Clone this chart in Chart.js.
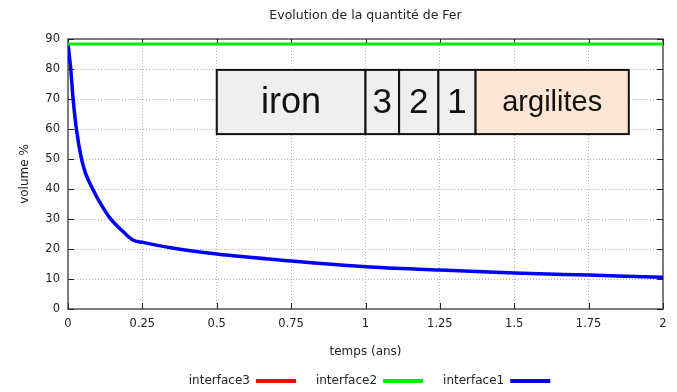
<!DOCTYPE html>
<html>
<head>
<meta charset="utf-8">
<title>Evolution de la quantité de Fer</title>
<script src="https://cdn.jsdelivr.net/npm/chart.js@4"></script>
<style>
    html, body { margin: 0; padding: 0; background: #fff; }
    #wrap { width: 677px; height: 392px; }
</style>
</head>
<body>
<div id="wrap"><canvas id="ferChart" width="677" height="392"></canvas></div>
<script>
// Temps (ans) et volume % pour chaque interface
var temps = [0, 0.009, 0.017, 0.028, 0.045, 0.059, 0.082, 0.109, 0.142, 0.185, 0.218, 0.252, 0.35, 0.5, 0.75, 1.0, 1.25, 1.5, 1.75, 2.0];
var interface1 = [88.3, 80.2, 70.2, 60.2, 50.2, 45.2, 40.2, 35.2, 30.2, 25.8, 23, 22.2, 20.3, 18.3, 16, 14.1, 13, 12, 11.3, 10.6];
var tempsInterface2 = [0, 2];
var interface2 = [88.3, 88.3];
var interface3 = [];

var xTickValues = [0, 0.25, 0.5, 0.75, 1, 1.25, 1.5, 1.75, 2];
var xTickLabels = ['0', '0.25', '0.5', '0.75', '1', '1.25', '1.5', '1.75', '2'];

// Couches du schéma (limites en années, hauteur en volume %)
var zoneLimites = [0.5, 1.0, 1.113, 1.245, 1.37, 1.885];
var zoneNoms = ['iron', '3', '2', '1', 'argilites'];
var zoneHaut = 79.7;
var zoneBas = 58.3;

var FONT = "'DejaVu Sans', sans-serif";

function toPoints(xs, ys)
{
    var pts = [];
    for (var i = 0; i < ys.length; i++) {
        pts.push({x: xs[i], y: ys[i]});
    }
    return pts;
}

// cadre + petites graduations vers l'intérieur
var cadrePlugin = {
    id: 'cadre',
    beforeDatasetsDraw: function(chart) {
        var ctx = chart.ctx;
        var a = chart.chartArea;
        var xs = chart.scales.x;
        var ys = chart.scales.y;
        ctx.save();
        ctx.strokeStyle = '#555';
        ctx.lineWidth = 1.5;
        ctx.strokeRect(a.left, a.top, a.right - a.left, a.bottom - a.top);
        ctx.lineWidth = 1;
        ctx.strokeStyle = '#222';
        ctx.beginPath();
        xs.ticks.forEach(function(t) {
            var px = Math.round(xs.getPixelForValue(t.value)) + 0.5;
            ctx.moveTo(px, a.bottom); ctx.lineTo(px, a.bottom - 6);
            ctx.moveTo(px, a.top); ctx.lineTo(px, a.top + 6);
        });
        ys.ticks.forEach(function(t) {
            var py = Math.round(ys.getPixelForValue(t.value)) + 0.5;
            ctx.moveTo(a.left, py); ctx.lineTo(a.left + 6, py);
            ctx.moveTo(a.right, py); ctx.lineTo(a.right - 6, py);
        });
        ctx.stroke();
        ctx.restore();
    },
    afterDatasetsDraw: function(chart) {
        var ctx = chart.ctx;
        var xs = chart.scales.x;
        var ys = chart.scales.y;
        var top = ys.getPixelForValue(zoneHaut);
        var bottom = ys.getPixelForValue(zoneBas);
        ctx.save();
        for (var i = 0; i < zoneNoms.length; i++) {
            var x0 = xs.getPixelForValue(zoneLimites[i]);
            var x1 = xs.getPixelForValue(zoneLimites[i + 1]);
            var last = i == zoneNoms.length - 1;
            ctx.fillStyle = last ? '#fce5d5' : '#efefef';
            ctx.fillRect(x0, top, x1 - x0, bottom - top);
            ctx.strokeStyle = '#111';
            ctx.lineWidth = 2;
            ctx.strokeRect(x0, top, x1 - x0, bottom - top);
            ctx.fillStyle = '#111';
            ctx.textAlign = 'center';
            ctx.textBaseline = 'middle';
            var size = last ? 29 : (i == 0 ? 36 : 35);
            ctx.font = size + "px 'Liberation Sans', Arial, sans-serif";
            ctx.fillText(zoneNoms[i], (x0 + x1) / 2, (top + bottom) / 2 + 1);
        }
        ctx.restore();
    },
    afterDraw: function(chart) {
        var ctx = chart.ctx;
        var a = chart.chartArea;
        var mid = (a.left + a.right) / 2;
        ctx.save();
        // titre
        ctx.font = '12.5px ' + FONT;
        ctx.fillStyle = '#222';
        ctx.textAlign = 'center';
        ctx.textBaseline = 'middle';
        ctx.fillText('Evolution de la quantité de Fer', mid, 16);

        // légende : texte puis trait
        ctx.font = '12px ' + FONT;
        var items = chart.data.datasets;
        var lineLen = 40, gap = 6, sep = 20;
        var total = 0;
        items.forEach(function(d, i) {
            total += ctx.measureText(d.label).width + gap + lineLen;
            if (i < items.length - 1) total += sep;
        });
        var x = mid + 4 - total / 2;
        var y = 381;
        ctx.textAlign = 'left';
        items.forEach(function(d) {
            var w = ctx.measureText(d.label).width;
            ctx.fillStyle = '#222';
            ctx.fillText(d.label, x, y);
            x += w + gap;
            ctx.strokeStyle = d.borderColor;
            ctx.lineWidth = 4;
            ctx.beginPath();
            ctx.moveTo(x, y);
            ctx.lineTo(x + lineLen, y);
            ctx.stroke();
            x += lineLen + sep;
        });
        ctx.restore();
    }
};

var ctx = document.getElementById('ferChart').getContext('2d');

var config = {
    type: 'line',
    data: {
        datasets: [{
            label: 'interface3',
            data: toPoints(temps, interface3),
            borderColor: '#ff0000',
            borderWidth: 3,
            pointRadius: 0
        }, {
            label: 'interface2',
            data: toPoints(tempsInterface2, interface2),
            borderColor: '#00ee00',
            borderWidth: 3,
            pointRadius: 0
        }, {
            label: 'interface1',
            data: toPoints(temps, interface1),
            borderColor: '#0000ff',
            borderWidth: 3.5,
            pointRadius: 0,
            cubicInterpolationMode: 'monotone'
        }]
    },
    options: {
        responsive: false,
        animation: false,
        devicePixelRatio: 1,
        layout: {
            padding: {left: 0, right: 14, top: 39, bottom: 33}
        },
        plugins: {
            legend: {display: false},
            title: {display: false},
            tooltip: {enabled: false}
        },
        scales: {
            x: {
                type: 'linear',
                min: 0,
                max: 2,
                afterFit: function(scale) { scale.height = 50; },
                afterBuildTicks: function(scale) {
                    scale.ticks = xTickValues.map(function(v) { return {value: v}; });
                },
                ticks: {
                    padding: 8,
                    color: '#222',
                    font: {family: FONT, size: 11.5},
                    maxRotation: 0,
                    callback: function(value) {
                        var i = xTickValues.indexOf(value);
                        return i >= 0 ? xTickLabels[i] : '';
                    }
                },
                grid: {color: '#b4b4b4', lineWidth: 1, drawTicks: false},
                border: {display: false, dash: [1, 2]},
                title: {
                    display: true,
                    text: 'temps (ans)',
                    color: '#222',
                    font: {family: FONT, size: 12},
                    padding: {top: 0, bottom: 0}
                }
            },
            y: {
                min: 0,
                max: 90,
                afterFit: function(scale) { scale.width = 68; },
                ticks: {
                    stepSize: 10,
                    padding: 8,
                    color: '#222',
                    font: {family: FONT, size: 11.5}
                },
                grid: {color: '#b4b4b4', lineWidth: 1, drawTicks: false},
                border: {display: false, dash: [1, 2]},
                title: {
                    display: true,
                    text: 'volume %',
                    color: '#222',
                    font: {family: FONT, size: 12},
                    padding: {top: 18, bottom: 0}
                }
            }
        }
    },
    plugins: [cadrePlugin]
};

var myChart = new Chart(ctx, config);
</script>
</body>
</html>
